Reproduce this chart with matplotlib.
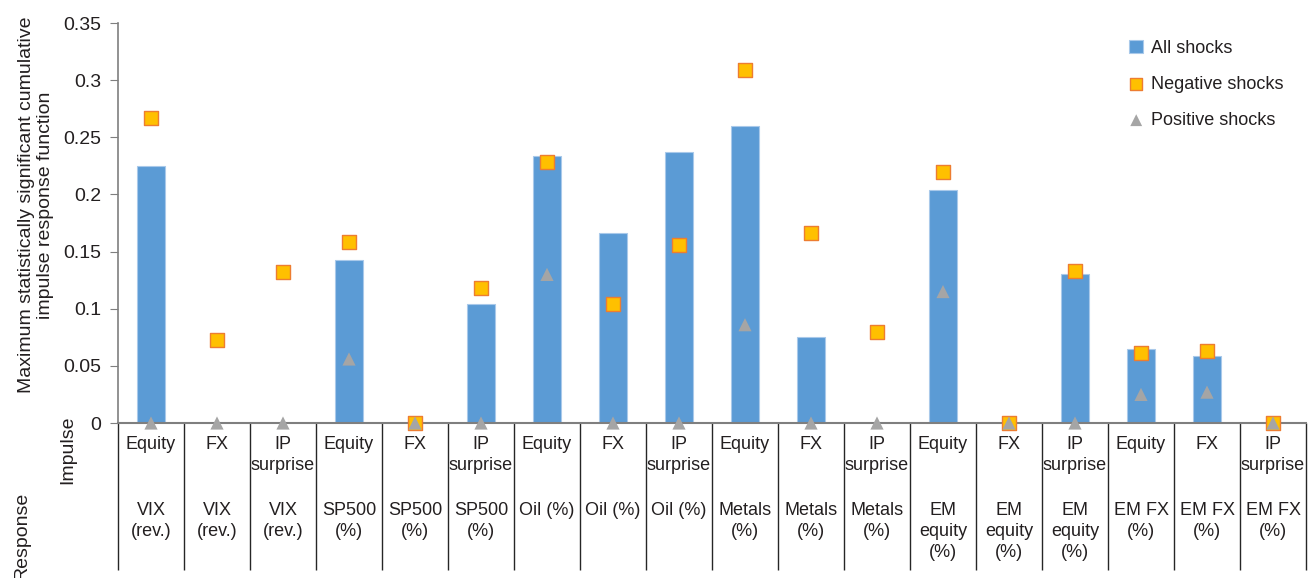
import numpy as np
import matplotlib
matplotlib.use("Agg")
import matplotlib.pyplot as plt
import matplotlib.transforms as mtransforms

plt.rcParams['font.family'] = ['Liberation Sans', 'DejaVu Sans']

# impulse / response labels for each column
impulse = ["Equity", "FX", "IP\nsurprise"] * 6
response = ["VIX\n(rev.)"] * 3 + ["SP500\n(%)"] * 3 + ["Oil (%)"] * 3 + \
           ["Metals\n(%)"] * 3 + ["EM\nequity\n(%)"] * 3 + ["EM FX\n(%)"] * 3

all_shocks = [0.225, np.nan, np.nan, 0.143, np.nan, 0.104, 0.234, 0.166, 0.237,
              0.260, 0.075, np.nan, 0.204, np.nan, 0.130, 0.065, 0.059, np.nan]
neg_shocks = [0.267, 0.073, 0.132, 0.158, 0.0, 0.118, 0.228, 0.104, 0.156,
              0.309, 0.166, 0.080, 0.220, 0.0, 0.133, 0.061, 0.063, 0.0]
pos_shocks = [0.0, 0.0, 0.0, 0.056, 0.0, 0.0, 0.130, 0.0, 0.0,
              0.086, 0.0, 0.0, 0.115, 0.0, 0.0, 0.025, 0.027, 0.0]

txt = '#231f20'
fig = plt.figure(figsize=(13.08, 5.78), dpi=100)
ax = fig.add_axes([118/1308, (578-423)/578, 1188/1308, 400/578])

x = np.arange(len(impulse))
b = ax.bar(x, np.nan_to_num(all_shocks), width=0.42, color='#5b9bd5',
           edgecolor='#a9c9ea', linewidth=0.8, label='All shocks', zorder=2)
n = ax.scatter(x, neg_shocks, marker='s', s=95, color='#ffc000', edgecolors='#ed7d31',
               linewidths=1.0, label='Negative shocks', zorder=3, clip_on=False)
p = ax.scatter(x, pos_shocks, marker='^', s=90, color='#a5a5a5', edgecolors='none',
               label='Positive shocks', zorder=4, clip_on=False)

ax.set_xlim(-0.5, len(impulse) - 0.5)
ax.set_ylim(0, 0.35)
ax.set_yticks(np.arange(0, 0.351, 0.05))
ax.set_yticklabels(['0', '0.05', '0.1', '0.15', '0.2', '0.25', '0.3', '0.35'])
ax.set_xticks([])
ax.tick_params(axis='y', direction='out', length=6, color='#7f7f7f',
               labelsize=14, labelcolor=txt, pad=6)
for s in ['top', 'right']:
    ax.spines[s].set_visible(False)
ax.spines['left'].set_color('#7f7f7f')
ax.spines['bottom'].set_color('#7f7f7f')
ax.spines['bottom'].set_linewidth(1.5)
ax.spines['left'].set_linewidth(1.2)

# separators of the label table under the axis
ax.vlines(np.arange(-0.5, len(impulse) + 0.5), -0.1285, 0, colors='#262626',
          linewidth=1.0, clip_on=False, zorder=1)

trans = mtransforms.blended_transform_factory(ax.transData, fig.transFigure)
for i in range(len(impulse)):
    ax.text(x[i], (578-436)/578, impulse[i], transform=trans, ha='center', va='top',
            fontsize=13, color=txt, linespacing=1.3)
    ax.text(x[i], (578-502)/578, response[i], transform=trans, ha='center', va='top',
            fontsize=13, color=txt, linespacing=1.3)

fig.text(36/1308, 1 - 205/578, "Maximum statistically significant cumulative\nimpulse response function",
         rotation=90, ha='center', va='center', fontsize=14, color=txt, linespacing=1.2)
fig.text(68/1308, 1 - 450/578, "Impulse", rotation=90, ha='center', va='center',
         fontsize=14, color=txt)
fig.text(22/1308, 1 - 536/578, "Response", rotation=90, ha='center', va='center',
         fontsize=14, color=txt)

leg = fig.legend(handles=[b, n, p], loc='upper left',
                 bbox_to_anchor=(1129/1308, 1 - 40/578), frameon=False,
                 fontsize=13, handlelength=0.8, handletextpad=0.4,
                 labelspacing=1.05, borderaxespad=0, borderpad=0, markerscale=0.9)
for t in leg.get_texts():
    t.set_color(txt)

fig.savefig("out.png", dpi=100)
